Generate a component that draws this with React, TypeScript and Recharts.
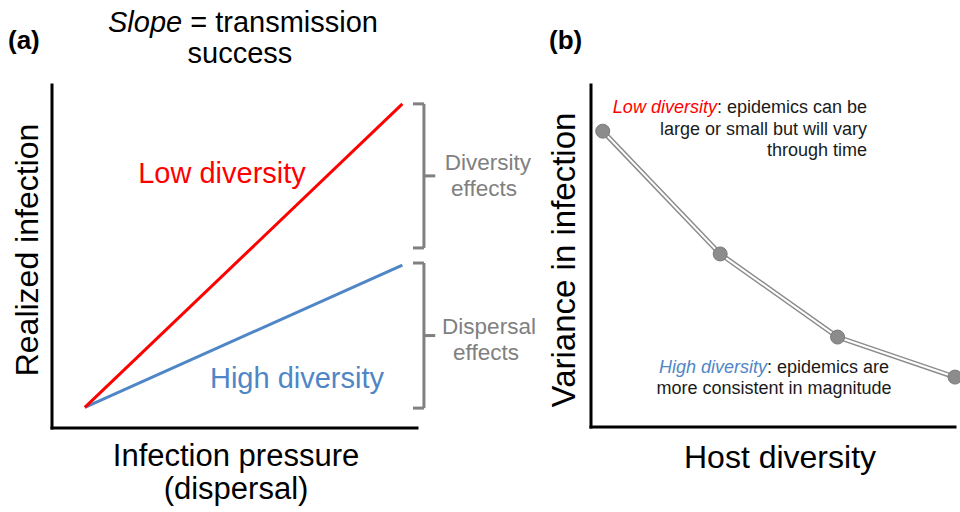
import { LineChart, Line, XAxis, YAxis, ReferenceLine } from 'recharts'

// panel (a): realized infection vs infection pressure
const lowDiversity = [
  { x: 9, y: 6 },
  { x: 96, y: 94.5 },
]
const highDiversity = [
  { x: 9, y: 6 },
  { x: 96, y: 47.5 },
]
// brackets span [top, bottom] in y units
const brackets = [
  { top: 94.5, bottom: 52.5, label: ['Diversity', 'effects'] },
  { top: 48.1, bottom: 5.8, label: ['Dispersal', 'effects'] },
]

// panel (b): variance in infection vs host diversity
const hostDiversity = [1, 2, 3, 4]
const variance = [86.5, 50.6, 26.3, 14.6]
const varianceData = hostDiversity.map((x, i) => ({ x, y: variance[i] }))

const RED = '#ff0000'
const BLUE = '#4f86c6'
const GRAY = '#808080'
const FONT = '"Liberation Sans", Arial, Helvetica, sans-serif'

const axisStyle = { stroke: '#000', strokeWidth: 3, strokeLinecap: 'square' as const }

function BracketLines({ top, bottom }: { top: number; bottom: number }) {
  const x0 = 98.9
  const x1 = 101.9
  const tip = 105
  const mid = (top + bottom) / 2
  const segs = [
    [{ x: x0, y: top }, { x: x1, y: top }],
    [{ x: x1, y: top }, { x: x1, y: bottom }],
    [{ x: x0, y: bottom }, { x: x1, y: bottom }],
    [{ x: x1, y: mid }, { x: tip, y: mid }],
  ]
  return segs.map((s, i) => (
    <ReferenceLine key={i} segment={s} stroke={GRAY} strokeWidth={3} ifOverflow="visible" />
  ))
}

export default function App() {
  return (
    <div style={{ position: 'absolute', left: 0, top: 0, width: 960, height: 512, background: '#fff', fontFamily: FONT, overflow: 'hidden' }}>
      <div style={{ position: 'absolute', left: 0, top: 0 }}>
        <LineChart width={480} height={512} margin={{ top: 85, right: 63, left: 51, bottom: 83 }}>
          <XAxis type="number" dataKey="x" domain={[0, 100]} tick={false} tickLine={false} height={1} axisLine={axisStyle} />
          <YAxis type="number" dataKey="y" domain={[0, 100]} tick={false} tickLine={false} width={1} axisLine={axisStyle} />
          {brackets.map((b, i) => (
            <BracketLines key={i} top={b.top} bottom={b.bottom} />
          ))}
          <Line data={highDiversity} dataKey="y" stroke={BLUE} strokeWidth={3} dot={false} isAnimationActive={false} />
          <Line data={lowDiversity} dataKey="y" stroke={RED} strokeWidth={3} dot={false} isAnimationActive={false} />
        </LineChart>
      </div>
      <div style={{ position: 'absolute', left: 540, top: 0 }}>
        <LineChart width={420} height={512} data={varianceData} margin={{ top: 85, right: 5, left: 50, bottom: 84 }}>
          <XAxis type="number" dataKey="x" domain={[0.9, 4]} tick={false} tickLine={false} height={1} axisLine={axisStyle} />
          <YAxis type="number" dataKey="y" domain={[0, 100]} tick={false} tickLine={false} width={1} axisLine={axisStyle} />
          <Line dataKey="y" stroke="#8c8c8c" strokeWidth={5} dot={false} isAnimationActive={false} />
          <Line
            dataKey="y"
            stroke="#fff"
            strokeWidth={2}
            dot={{ r: 7, fill: '#8c8c8c', stroke: '#7a7a7a', strokeWidth: 1 }}
            isAnimationActive={false}
          />
        </LineChart>
      </div>
      <svg width={960} height={512} style={{ position: 'absolute', left: 0, top: 0, pointerEvents: 'none' }} fontFamily={FONT}>
        {/* panel (a) */}
        <text x={8} y={49} fontSize={26} fontWeight="bold" fill="#000">(a)</text>
        <text x={243} y={32} fontSize={29} textAnchor="middle" fill="#000">
          <tspan fontStyle="italic">Slope</tspan> = transmission
        </text>
        <text x={240} y={63} fontSize={29} textAnchor="middle" fill="#000">success</text>
        <text x={222} y={183} fontSize={29} textAnchor="middle" fill={RED}>Low diversity</text>
        <text x={297} y={388} fontSize={29} textAnchor="middle" fill={BLUE}>High diversity</text>
        <text x={488} y={170} fontSize={22.5} textAnchor="middle" fill={GRAY}>{brackets[0].label[0]}</text>
        <text x={484} y={196} fontSize={22.5} textAnchor="middle" fill={GRAY}>{brackets[0].label[1]}</text>
        <text x={489} y={334} fontSize={22.5} textAnchor="middle" fill={GRAY}>{brackets[1].label[0]}</text>
        <text x={486} y={360} fontSize={22.5} textAnchor="middle" fill={GRAY}>{brackets[1].label[1]}</text>
        <text x={236} y={466} fontSize={31} textAnchor="middle" fill="#000">Infection pressure</text>
        <text x={236} y={499} fontSize={31} textAnchor="middle" fill="#000">(dispersal)</text>
        <text x={38} y={250} fontSize={32} textAnchor="middle" fill="#000" transform="rotate(-90 38 250)">Realized infection</text>

        {/* panel (b) */}
        <text x={549} y={49} fontSize={26} fontWeight="bold" fill="#000">(b)</text>
        <text x={575} y={260} fontSize={33} textAnchor="middle" fill="#000" transform="rotate(-90 575 260)">Variance in infection</text>
        <text x={780} y={468} fontSize={32} textAnchor="middle" fill="#000">Host diversity</text>
        <text x={867} y={113} fontSize={18} textAnchor="end" fill="#1a1a1a">
          <tspan fontStyle="italic" fill={RED}>Low diversity</tspan>: epidemics can be
        </text>
        <text x={867} y={135} fontSize={18} textAnchor="end" fill="#1a1a1a">large or small but will vary</text>
        <text x={867} y={156} fontSize={18} textAnchor="end" fill="#1a1a1a">through time</text>
        <text x={774} y={373} fontSize={18} textAnchor="middle" fill="#1a1a1a">
          <tspan fontStyle="italic" fill={BLUE}>High diversity</tspan>: epidemics are
        </text>
        <text x={774} y={394} fontSize={18} textAnchor="middle" fill="#1a1a1a">more consistent in magnitude</text>
      </svg>
    </div>
  )
}
